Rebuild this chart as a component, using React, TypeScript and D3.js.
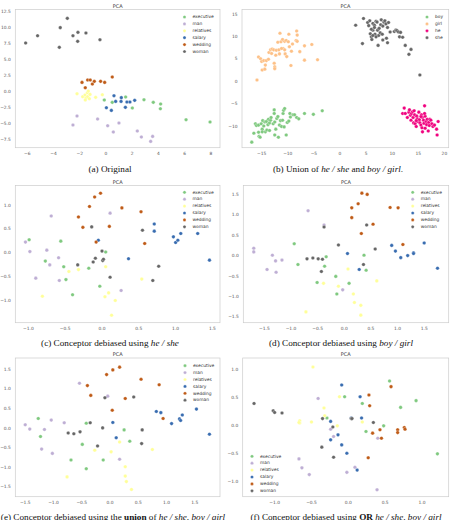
import * as d3 from 'd3';
import type { ReactNode } from 'react';

// Accent palette, as used by the scatter plots
const GREEN = '#7fc97f';
const LAVENDER = '#beaed4';
const ORANGE = '#fdc086';
const YELLOW = '#ffff99';
const BLUE = '#386cb0';
const PINK = '#f0027f';
const BROWN = '#bf5b17';
const GRAY = '#666666';

const wordLabels = ['executive', 'man', 'relatives', 'salary', 'wedding', 'woman'];
const wordColors = [GREEN, LAVENDER, YELLOW, BLUE, BROWN, GRAY];
const genderLabels = ['boy', 'girl', 'he', 'she'];
const genderColors = [GREEN, ORANGE, PINK, GRAY];

// (a) original embeddings
const aExecutive = [[-0.13, -1.3], [0.48, -1.66], [1.5, -0.83], [2.01, -2.54], [2.9, -1.25], [3.61, -1.66], [4.17, -1.92], [4.15, -2.65], [6.11, -4.36], [7.94, -4.72]];
const aMan = [[-2.52, -5.19], [-2.21, -3.79], [-0.64, -4.26], [0.13, -5.3], [0.56, -6.28], [0.99, -4.88], [2.39, -6.13], [2.7, -7.06], [3.41, -7.74], [3.56, -6.96]];
const aRelatives = [[-2.21, -0.31], [-1.78, -0.78], [-1.6, -0.52], [-1.53, -0.99], [-1.42, -0.16], [-1.4, -0.78], [-1.27, -1.09], [-1.22, -0.42], [-1.58, -1.3], [-0.79, -0.88], [-0.28, -0.47], [-1.35, 0.1]];
const aSalary = [[0.03, -2.49], [0.41, -2.91], [0.61, -0.62], [0.74, -1.51], [1.15, -1.51], [1.17, -0.93], [1.48, -2.44], [1.6, -1.61], [1.83, -1.61], [2.19, -1.35]];
const aWedding = [[-1.83, 1.45], [-1.58, 0.62], [-1.4, 1.82], [-1.2, 1.82], [-1.04, 1.19], [-0.89, 1.61], [-0.41, 1.61], [-0.1, 1.45], [0.48, 2.28]];
const aWoman = [[-6.13, 7.58], [-5.22, 8.72], [-3.49, 9.97], [-2.95, 11.42], [-3.56, 6.91], [-2.52, 8.72], [-2.14, 9.24], [-2.16, 7.84], [-1.53, 9.14], [-0.46, 8.1]];

// (b) gendered word pairs
const bBoy = [[-16.9, -13.5], [-16.5, -11.5], [-16.2, -9.4], [-16.0, -9.8], [-15.6, -9.7], [-15.5, -12.2], [-15.3, -12.4], [-15.1, -9.4], [-14.9, -10.6], [-14.8, -8.7], [-14.6, -9.9], [-14.4, -9.0], [-14.1, -8.9], [-14.3, -11.2], [-14.0, -10.8], [-13.8, -9.6], [-13.7, -8.4], [-13.5, -9.2], [-13.3, -8.6], [-13.2, -8.0], [-12.8, -9.4], [-12.6, -6.3], [-12.6, -7.1], [-12.5, -9.0], [-12.3, -10.6], [-12.1, -8.2], [-11.9, -7.8], [-11.8, -12.4], [-11.6, -9.7], [-11.4, -8.7], [-11.2, -10.0], [-11.0, -8.6], [-10.9, -7.1], [-10.8, -6.4], [-10.6, -6.0], [-10.7, -10.1], [-10.3, -11.9], [-10.1, -9.1], [-9.8, -8.8], [-9.6, -7.1], [-9.5, -7.9], [-9.0, -7.4], [-8.7, -7.4], [-8.3, -8.0], [-7.9, -8.3], [-6.8, -7.1], [-5.1, -7.3], [-3.4, -6.5], [-14.9, -11.2], [-13.5, -10.9], [-12.5, -11.9], [-15.6, -11.3]];
const bGirl = [[-15.9, 0.37], [-15.6, 5.5], [-15.2, 5.1], [-15.0, 4.5], [-14.6, 4.7], [-14.9, 2.6], [-14.3, 3.7], [-14.4, 2.8], [-14.1, 4.7], [-13.7, 5.0], [-13.6, 6.5], [-13.3, 7.1], [-13.1, 6.3], [-13.0, 7.3], [-12.7, 7.1], [-12.6, 4.1], [-12.5, 3.3], [-12.5, 2.9], [-12.3, 5.9], [-12.2, 7.0], [-11.9, 8.8], [-11.7, 7.1], [-11.6, 6.2], [-11.5, 10.8], [-11.3, 8.9], [-11.0, 9.4], [-10.9, 7.4], [-10.6, 7.1], [-10.5, 6.2], [-10.6, 9.0], [-10.3, 9.2], [-9.9, 8.9], [-9.8, 10.6], [-9.7, 7.8], [-9.4, 3.6], [-9.3, 6.8], [-9.1, 8.4], [-8.4, 9.2], [-8.3, 11.3], [-8.2, 10.4], [-8.2, 9.0], [-7.7, 6.7], [-6.8, 8.0], [-6.8, 4.8], [-5.4, 8.3], [-4.3, 4.9], [-11.2, 7.4], [-10.2, 5.6]];
const bHe = [[12.0, -7.1], [12.3, -5.9], [12.5, -7.1], [12.9, -8.0], [13.2, -6.8], [13.3, -6.3], [13.5, -7.5], [13.6, -8.6], [13.7, -7.1], [13.9, -6.7], [14.0, -8.0], [14.1, -9.2], [14.2, -6.5], [14.3, -7.4], [14.4, -9.4], [14.6, -10.0], [14.7, -7.7], [14.8, -8.3], [14.9, -8.9], [15.1, -6.8], [15.2, -8.5], [15.3, -9.2], [15.5, -9.7], [15.6, -7.4], [15.7, -10.3], [15.8, -8.0], [16.0, -8.6], [16.1, -9.3], [16.2, -5.4], [16.3, -10.4], [16.3, -7.7], [16.5, -8.9], [16.6, -9.6], [16.7, -8.4], [16.9, -11.0], [17.0, -9.1], [17.1, -9.8], [17.2, -8.4], [17.4, -8.6], [17.6, -9.4], [17.8, -10.0], [18.1, -9.7], [18.5, -10.6], [18.6, -11.9], [18.8, -8.9], [16.2, -7.1], [15.8, -11.2], [15.5, -7.8], [14.6, -8.7]];
const bShe = [[3.0, 12.6], [4.5, 14.1], [4.3, 8.5], [5.3, 13.2], [5.5, 12.5], [5.7, 13.6], [5.8, 10.7], [6.0, 10.0], [6.1, 9.4], [6.3, 13.0], [6.3, 11.5], [6.6, 12.6], [6.7, 10.6], [6.9, 13.5], [7.1, 13.3], [7.2, 11.5], [7.3, 8.1], [7.4, 10.3], [7.5, 11.9], [7.7, 10.9], [7.8, 12.7], [7.9, 13.8], [8.1, 10.6], [8.2, 9.3], [8.4, 13.3], [8.6, 13.6], [8.8, 12.9], [8.9, 9.7], [9.1, 12.1], [9.1, 8.7], [9.3, 13.2], [9.6, 11.1], [10.4, 11.2], [10.7, 11.5], [10.9, 11.4], [11.2, 11.1], [11.4, 10.0], [11.6, 11.0], [12.0, 9.9], [12.5, 8.1], [13.2, 6.1], [13.6, 7.2], [15.3, 1.5], [6.3, 10.3], [6.9, 10.0], [6.0, 11.7], [6.6, 12.1], [8.2, 12.4]];

// (c) debiased with he / she
const cExecutive = [[-0.99, 0.28], [-0.56, 0.25], [-0.77, -0.17], [-0.52, -0.29], [-0.49, -0.56], [-0.4, -0.88], [-0.18, -0.32], [0.05, 0.02], [-0.03, -0.7]];
const cMan = [[-1.04, 0.23], [-0.98, 0.03], [-0.9, -0.53], [-0.75, 0.06], [-0.71, -0.25], [-0.69, 0.78], [-0.59, -0.1], [-0.58, -0.58], [0.11, 0.84], [0.26, -0.79]];
const cRelatives = [[-0.81, -0.91], [-0.45, -0.39], [-0.32, -0.35], [0.05, -0.29], [0.09, -0.84], [0.04, -0.92], [0.18, -1.0], [0.13, -1.31], [0.54, -0.55]];
const cSalary = [[-0.05, 0.27], [0.36, -0.12], [0.71, 0.61], [0.71, 0.46], [0.97, 0.34], [1.0, 0.22], [1.03, 0.27], [1.07, 0.41], [1.3, 0.41], [1.46, -0.15]];
const cWedding = [[-0.32, 0.76], [-0.26, 0.54], [-0.17, 0.98], [-0.1, 1.18], [-0.02, 1.26], [-0.08, 0.23], [0.1, 0.56], [0.27, 0.95], [0.53, 0.87], [0.58, 0.2]];
const cWoman = [[-0.33, -0.25], [-0.14, 0.55], [-0.12, -0.19], [-0.09, -0.11], [0.0, 0.04], [0.01, -0.16], [0.02, -0.13], [0.11, -0.51], [0.55, 0.48], [0.69, -0.58], [0.77, -0.28]];

// (d) debiased with boy / girl
const dExecutive = [[-0.94, 0.3], [-0.87, -0.21], [-0.34, -0.02], [-0.37, -0.25], [-0.16, -0.5], [-0.14, -0.93], [0.09, -0.67], [0.37, 0.02], [0.41, -0.35], [-0.51, -0.65]];
const dMan = [[-1.7, 0.19], [-1.7, 0.1], [-1.45, -0.33], [-1.35, 0.02], [-1.29, -0.12], [-1.28, -0.4], [-1.17, -0.1], [-0.68, 1.11], [-0.38, 0.76], [-0.03, -0.83]];
const dRelatives = [[-0.72, -1.37], [-0.39, -0.67], [-0.11, -0.74], [0.07, -0.32], [0.17, -0.93], [0.19, -1.14], [0.31, -1.21], [0.31, -1.45], [0.61, -0.61]];
const dSalary = [[0.06, 0.06], [0.28, -0.33], [0.89, 0.26], [0.96, 0.12], [1.06, -0.04], [1.19, 0.01], [1.3, 0.08], [1.3, 0.06], [1.5, 0.32], [1.75, -0.3]];
const dWedding = [[0.14, 0.94], [0.14, 1.18], [0.26, 1.28], [0.33, 1.54], [0.43, 1.51], [0.32, 0.55], [0.54, 0.78], [0.86, 1.19], [1.01, 1.18], [1.1, 0.28]];
const dWoman = [[-0.7, -0.07], [-0.59, -0.05], [-0.49, -0.07], [-0.41, -0.08], [-0.43, -0.38], [-0.38, 0.71], [-0.11, 0.27], [0.36, -0.21], [0.42, 0.76], [0.58, 0.17]];

// (e) debiased with the union of both pair sets
const eExecutive = [[-1.27, 0.25], [-1.23, -0.21], [-0.42, 0.13], [-0.49, -0.41], [-0.69, -0.81], [-0.42, -1.03], [-0.12, -0.81], [0.25, -0.04], [0.35, -0.33]];
const eMan = [[-1.5, 0.09], [-1.42, -0.02], [-1.16, -0.03], [-1.04, 0.21], [-1.02, -0.64], [-0.81, 0.14], [-1.21, -0.53], [-0.54, 1.15], [-0.04, 0.82], [0.17, -0.79]];
const eRelatives = [[-0.76, -1.24], [-0.27, -0.56], [0.02, -0.6], [0.17, -0.35], [0.27, -0.98], [0.27, -1.22], [0.29, -1.36], [0.38, -1.56], [0.75, -0.54]];
const eSalary = [[0.05, 0.15], [0.11, -0.24], [0.82, 0.43], [0.9, 0.4], [1.09, 0.12], [1.23, 0.24], [1.25, 0.2], [1.28, 0.34], [1.53, 0.49], [1.76, -0.15]];
const eWedding = [[-0.4, 1.09], [-0.34, 0.84], [-0.06, 1.37], [0.05, 1.49], [0.17, 1.56], [0.04, 0.46], [0.27, 0.76], [0.55, 1.25], [0.87, 1.11], [0.94, 0.25]];
const eWoman = [[-0.74, -0.12], [-0.64, -0.14], [-0.53, -0.09], [-0.35, 0.14], [-0.22, -0.45], [-0.13, 0.01], [-0.09, 0.78], [0.42, 0.8], [0.56, -0.39], [0.57, -0.04]];

// (f) debiased with the OR of both conceptors
const fExecutive = [[-0.29, 0.13], [-0.05, 0.51], [0.19, 0.39], [0.24, -0.11], [0.48, -0.01], [0.56, 0.79], [0.71, 0.32], [0.92, 0.44], [1.21, -0.51]];
const fMan = [[-0.67, -0.6], [-0.63, -0.76], [-0.53, -0.88], [-0.41, 0.48], [-0.24, -0.07], [-0.2, -0.2], [-0.02, -0.84], [0.09, -0.75], [0.4, -0.23], [0.39, -1.15]];
const fRelatives = [[-0.66, 0.08], [-0.66, 0.04], [-0.5, 0.06], [-0.48, 1.04], [-0.33, 0.31], [-0.32, 0.17], [-0.15, -0.01], [-0.12, 0.51], [0.19, 0.06], [-0.67, 0.05]];
const fSalary = [[-0.24, 0.07], [-0.14, -0.17], [-0.24, -0.26], [-0.09, -0.35], [-0.09, 0.72], [-0.02, -0.5], [0.04, 0.13], [0.16, 0.51], [0.18, 0.13], [0.12, -0.8]];
const fWedding = [[0.28, 0.54], [0.29, 0.35], [0.33, -0.14], [0.45, -0.23], [0.43, -0.08], [0.58, 0.69], [0.67, -0.08], [0.67, -0.13], [0.76, -0.04], [0.77, -0.07], [0.27, -0.58]];
const fWoman = [[-1.28, 0.39], [-1.02, 0.26], [-1.0, 0.23], [-0.9, 0.22], [-0.35, 0.12], [-0.21, -0.03], [0.04, 0.12], [0.05, 0.12], [0.34, 0.05], [-0.36, -0.39], [-0.2, -0.57]];

const aXTicks = [-6, -4, -2, 0, 2, 4, 6, 8];
const aYTicks = [-7.5, -5, -2.5, 0, 2.5, 5, 7.5, 10, 12.5];
const bXTicks = [-15, -10, -5, 0, 5, 10, 15, 20];
const bYTicks = [-10, -5, 0, 5, 10, 15];
const cXTicks = [-1, -0.5, 0, 0.5, 1, 1.5];
const cYTicks = [-1, -0.5, 0, 0.5, 1];
const dXTicks = [-1.5, -1, -0.5, 0, 0.5, 1, 1.5];
const dYTicks = [-1.5, -1, -0.5, 0, 0.5, 1, 1.5];
const eXTicks = [-1.5, -1, -0.5, 0, 0.5, 1, 1.5];
const eYTicks = [-1.5, -1, -0.5, 0, 0.5, 1, 1.5];
const fXTicks = [-1, -0.5, 0, 0.5, 1];
const fYTicks = [-1, -0.5, 0, 0.5, 1];

const SANS = 'DejaVu Sans, sans-serif';
const SERIF = 'Liberation Serif, Times New Roman, serif';
const fmtInt = d3.format('d');
const fmt1 = d3.format('.1f');

type PanelProps = {
  frame: number[];
  xDomain: number[];
  yDomain: number[];
  xTicks: number[];
  yTicks: number[];
  xFmt: (v: number) => string;
  yFmt: (v: number) => string;
  labels: string[];
  colors: string[];
  groups: number[][][];
  legend: number[];
  caption: ReactNode;
  captionAt: number[];
};

function Panel(p: PanelProps) {
  const [x0, x1, y0, y1] = p.frame;
  const x = d3.scaleLinear().domain(p.xDomain).range([x0, x1]);
  const y = d3.scaleLinear().domain(p.yDomain).range([y1, y0]);
  const [lx, ly] = p.legend;
  return (
    <g>
      <text x={(x0 + x1) / 2} y={y0 - 1.6} textAnchor="middle" fontSize={5} fill="#333" fontFamily={SANS}>PCA</text>
      <rect x={x0} y={y0} width={x1 - x0} height={y1 - y0} fill="none" stroke="#cccccc" strokeWidth={0.7} />
      {p.xTicks.map(t => (
        <text key={'x' + t} x={x(t)} y={y1 + 6.3} textAnchor="middle" dominantBaseline="middle"
          fontSize={4.4} fill="#555" fontFamily={SANS}>{p.xFmt(t)}</text>
      ))}
      {p.yTicks.map(t => (
        <text key={'y' + t} x={x0 - 4.5} y={y(t)} textAnchor="end" dominantBaseline="middle"
          fontSize={4.4} fill="#555" fontFamily={SANS}>{p.yFmt(t)}</text>
      ))}
      {p.groups.map((pts, gi) => pts.map((d, i) => (
        <circle key={gi + '-' + i} cx={x(d[0])} cy={y(d[1])} r={1.8}
          fill={p.colors[gi]} stroke="#fff" strokeWidth={0.3} />
      )))}
      {p.labels.map((name, i) => (
        <g key={name}>
          <circle cx={lx} cy={ly + i * 6.9} r={1.6} fill={p.colors[i]} stroke="#fff" strokeWidth={0.3} />
          <text x={lx + 8} y={ly + i * 6.9} dominantBaseline="middle" fontSize={4.4} fill="#333" fontFamily={SANS}>{name}</text>
        </g>
      ))}
      <text x={p.captionAt[0]} y={p.captionAt[1]} textAnchor="middle" dominantBaseline="middle"
        fontSize={9.2} fill="#111" fontFamily={SERIF}>{p.caption}</text>
    </g>
  );
}

const it = (s: string) => <tspan fontStyle="italic">{s}</tspan>;
const bf = (s: string) => <tspan fontWeight="bold">{s}</tspan>;

export default function App() {
  return (
    <svg width={453} height={520} style={{ position: 'absolute', left: 0, top: 0, background: '#fff' }}>
      <Panel frame={[15.3, 220, 9.5, 147.7]} xDomain={[-6.92, 8.7]} yDomain={[-8.72, 12.8]}
        xTicks={aXTicks} yTicks={aYTicks} xFmt={fmtInt} yFmt={fmt1}
        labels={wordLabels} colors={wordColors}
        groups={[aExecutive, aMan, aRelatives, aSalary, aWedding, aWoman]}
        legend={[184.5, 17]} caption={<>(a) Original</>} captionAt={[110, 169.5]} />
      <Panel frame={[242, 448.7, 9.5, 147.7]} xDomain={[-18.77, 20.82]} yDomain={[-14.74, 16.11]}
        xTicks={bXTicks} yTicks={bYTicks} xFmt={fmtInt} yFmt={fmtInt}
        labels={genderLabels} colors={genderColors}
        groups={[bBoy, bGirl, bHe, bShe]}
        legend={[427, 17]} caption={<>(b) Union of {it('he / she')} and {it('boy / girl')}.</>} captionAt={[338, 169.5]} />
      <Panel frame={[15.3, 220, 185.5, 322.7]} xDomain={[-1.178, 1.603]} yDomain={[-1.468, 1.422]}
        xTicks={cXTicks} yTicks={cYTicks} xFmt={fmt1} yFmt={fmt1}
        labels={wordLabels} colors={wordColors}
        groups={[cExecutive, cMan, cRelatives, cSalary, cWedding, cWoman]}
        legend={[184.5, 192.3]} caption={<>(c) Conceptor debiased using {it('he / she')}</>} captionAt={[110, 344]} />
      <Panel frame={[243.3, 448.7, 185.5, 322.7]} xDomain={[-1.896, 1.96]} yDomain={[-1.635, 1.728]}
        xTicks={dXTicks} yTicks={dYTicks} xFmt={fmt1} yFmt={fmt1}
        labels={wordLabels} colors={wordColors}
        groups={[dExecutive, dMan, dRelatives, dSalary, dWedding, dWoman]}
        legend={[412.7, 192.3]} caption={<>(d) Conceptor debiased using {it('boy / girl')}</>} captionAt={[341, 344]} />
      <Panel frame={[15.3, 220, 358, 496.7]} xDomain={[-1.676, 1.947]} yDomain={[-1.745, 1.794]}
        xTicks={eXTicks} yTicks={eYTicks} xFmt={fmt1} yFmt={fmt1}
        labels={wordLabels} colors={wordColors}
        groups={[eExecutive, eMan, eRelatives, eSalary, eWedding, eWoman]}
        legend={[185, 365.7]} caption={<>(e) Conceptor debiased using the {bf('union')} of {it('he / she, boy / girl')}</>} captionAt={[113, 518]} />
      <Panel frame={[242.7, 448.7, 358, 496.7]} xDomain={[-1.434, 1.363]} yDomain={[-1.275, 1.202]}
        xTicks={fXTicks} yTicks={fYTicks} xFmt={fmt1} yFmt={fmt1}
        labels={wordLabels} colors={wordColors}
        groups={[fExecutive, fMan, fRelatives, fSalary, fWedding, fWoman]}
        legend={[252, 456.3]} caption={<>(f) Conceptor debiased using {bf('OR')} {it('he / she, boy / girl')}</>} captionAt={[346, 518]} />
    </svg>
  );
}
